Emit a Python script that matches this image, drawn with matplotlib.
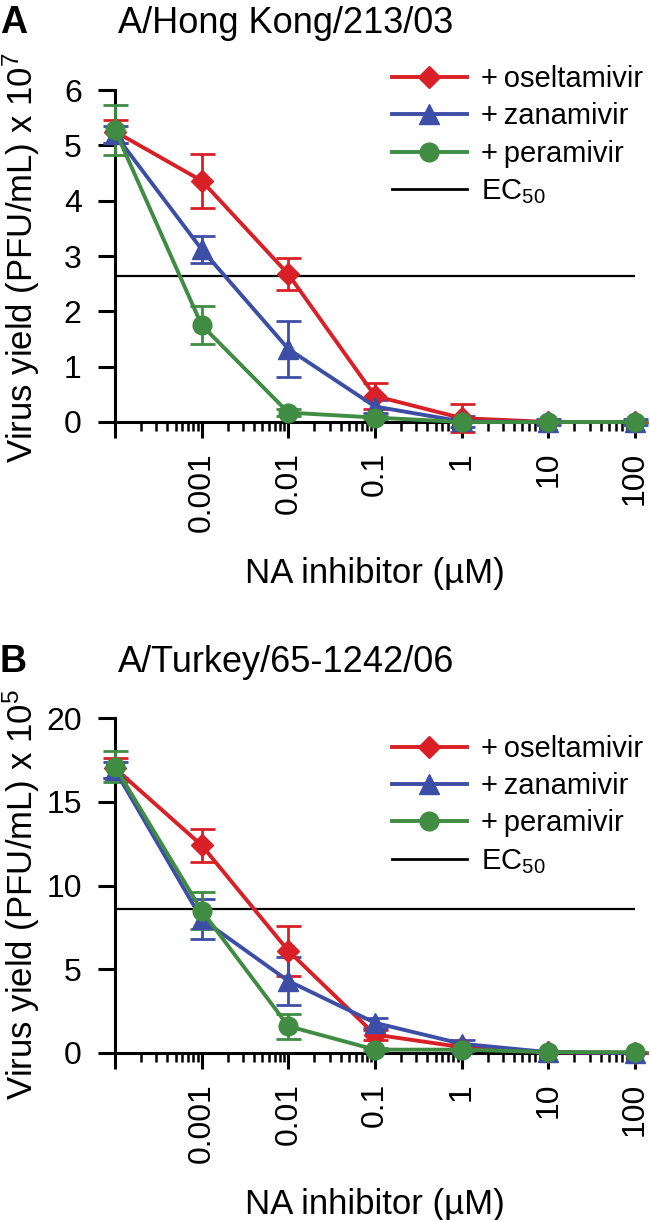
import matplotlib
matplotlib.use("Agg")
import matplotlib.pyplot as plt
import matplotlib.ticker as ticker
from matplotlib.lines import Line2D

plt.rcParams['font.family'] = ['Liberation Sans', 'DejaVu Sans']
plt.rcParams['mathtext.fontset'] = 'custom'
plt.rcParams['mathtext.rm'] = 'Liberation Sans'
plt.rcParams['mathtext.it'] = 'Liberation Sans:italic'
plt.rcParams['mathtext.bf'] = 'Liberation Sans:bold'

# concentrations (uM); first point is the no-drug control
conc = [1e-4, 1e-3, 1e-2, 1e-1, 1, 10, 100]
xtick_vals = [1e-3, 1e-2, 1e-1, 1, 10, 100]
xtick_labels = ["0.001", "0.01", "0.1", "1", "10", "100"]

# panel A: A/Hong Kong/213/03 (x 10^7 PFU/mL)
a_osel = [5.25, 4.36, 2.67, 0.47, 0.07, 0.0, 0.0]
a_osel_err = [0.2, 0.49, 0.29, 0.23, 0.25, 0.0, 0.0]
a_zan = [5.2, 3.12, 1.32, 0.28, 0.01, 0.0, 0.0]
a_zan_err = [0.15, 0.25, 0.5, 0.12, 0.1, 0.05, 0.05]
a_per = [5.28, 1.75, 0.17, 0.08, 0.0, 0.0, 0.0]
a_per_err = [0.45, 0.34, 0.06, 0.03, 0.0, 0.0, 0.0]
a_ec50 = 2.64

# panel B: A/Turkey/65-1242/06 (x 10^5 PFU/mL)
b_osel = [17.0, 12.4, 6.1, 1.1, 0.35, 0.05, 0.0]
b_osel_err = [0.6, 1.0, 1.5, 0.3, 0.2, 0.0, 0.0]
b_zan = [16.9, 8.0, 4.3, 1.8, 0.55, 0.05, 0.0]
b_zan_err = [0.5, 1.2, 1.45, 0.3, 0.2, 0.0, 0.0]
b_per = [17.1, 8.5, 1.6, 0.2, 0.2, 0.05, 0.05]
b_per_err = [0.95, 1.1, 0.75, 0.1, 0.1, 0.0, 0.0]
b_ec50 = 8.6

labels = ['+\u2009oseltamivir', '+\u2009zanamivir', '+\u2009peramivir', 'EC$_{50}$']

RED = '#d92027'
BLUE = '#3d4ea6'
GREEN = '#3f8c42'

W, H = 650, 1220
fig = plt.figure(figsize=(6.5, 12.2), dpi=100)


def px_axes(left, top, right, bottom):
    return fig.add_axes([left / W, 1 - bottom / H, (right - left) / W, (bottom - top) / H])


def draw_panel(ax, top, bottom, osel, osel_err, zan, zan_err, per, per_err, ec50,
               ymax, ystep, leg_top):
    series = [(osel, osel_err, RED, 'D', 11.5),
              (zan, zan_err, BLUE, '^', 14),
              (per, per_err, GREEN, 'o', 13.5)]
    ax.axhline(ec50, color='black', lw=1.6, zorder=1)
    handles = []
    for (vals, errs, col, mk, ms), lab in zip(series, labels):
        eb = ax.errorbar(conc, vals, yerr=errs, color=col, lw=2.8, marker=mk, ms=ms,
                         capsize=9, capthick=2.0, elinewidth=2.0, clip_on=False, zorder=3)
        for art in eb.lines[1] + eb.lines[2]:
            art.set_clip_on(False)
        handles.append(Line2D([], [], color=col, lw=2.8, marker=mk, ms=ms, label=lab))
    handles.append(Line2D([], [], color='black', lw=2.0, label=labels[3]))

    ax.set_xscale('log')
    ax.set_xlim(1e-4, 100)
    ax.set_ylim(0, ymax)
    ax.set_xticks([1e-4] + xtick_vals)
    ax.set_xticklabels([""] + xtick_labels, rotation=90, fontsize=23)
    ax.xaxis.set_minor_locator(ticker.LogLocator(base=10, subs=range(2, 10), numticks=20))
    ax.xaxis.set_minor_formatter(ticker.NullFormatter())
    ax.set_yticks(range(0, ymax + 1, ystep))
    ax.tick_params(axis='y', labelsize=23, length=12, width=2.2, pad=12)
    ax.tick_params(axis='x', which='major', length=11.5, width=2.2, pad=10)
    ax.tick_params(axis='x', which='minor', length=6.5, width=1.8)
    for s in ['top', 'right']:
        ax.spines[s].set_visible(False)
    for s in ['left', 'bottom']:
        ax.spines[s].set_linewidth(2.2)

    ax.legend(handles=handles, loc='upper left', bbox_to_anchor=(0.533, leg_top),
              frameon=False, fontsize=21, handlelength=2.55, handletextpad=0.5,
              labelspacing=0.32, borderpad=0, borderaxespad=0)

    # x label: baseline ~161 px below the x axis
    ax.text(0.5, -161 / (bottom - top), 'NA inhibitor (\u00b5M)', transform=ax.transAxes,
            ha='center', va='baseline', fontsize=25)
    return ax


axA = px_axes(115, 90, 635, 422)
draw_panel(axA, 90, 422, a_osel, a_osel_err, a_zan, a_zan_err, a_per, a_per_err, a_ec50,
           6, 1, 1.075)
axB = px_axes(115, 718, 635, 1053)
draw_panel(axB, 718, 1053, b_osel, b_osel_err, b_zan, b_zan_err, b_per, b_per_err, b_ec50,
           20, 5, 0.95)

# panel letters, titles and y labels
fig.text(0 / W, 1 - 33 / H, 'A', fontsize=27, fontweight='bold', ha='left', va='baseline')
fig.text(118 / W, 1 - 33 / H, 'A/Hong Kong/213/03', fontsize=26, ha='left', va='baseline')
fig.text(21 / W, 1 - 258 / H, 'Virus yield (PFU/mL) x 10$^{7}$', fontsize=25,
         rotation=90, ha='center', va='center')

fig.text(0 / W, 1 - 672 / H, 'B', fontsize=27, fontweight='bold', ha='left', va='baseline')
fig.text(118 / W, 1 - 672 / H, 'A/Turkey/65-1242/06', fontsize=26, ha='left', va='baseline')
fig.text(21 / W, 1 - 895 / H, 'Virus yield (PFU/mL) x 10$^{5}$', fontsize=25,
         rotation=90, ha='center', va='center')

fig.savefig('out.png', dpi=100)
